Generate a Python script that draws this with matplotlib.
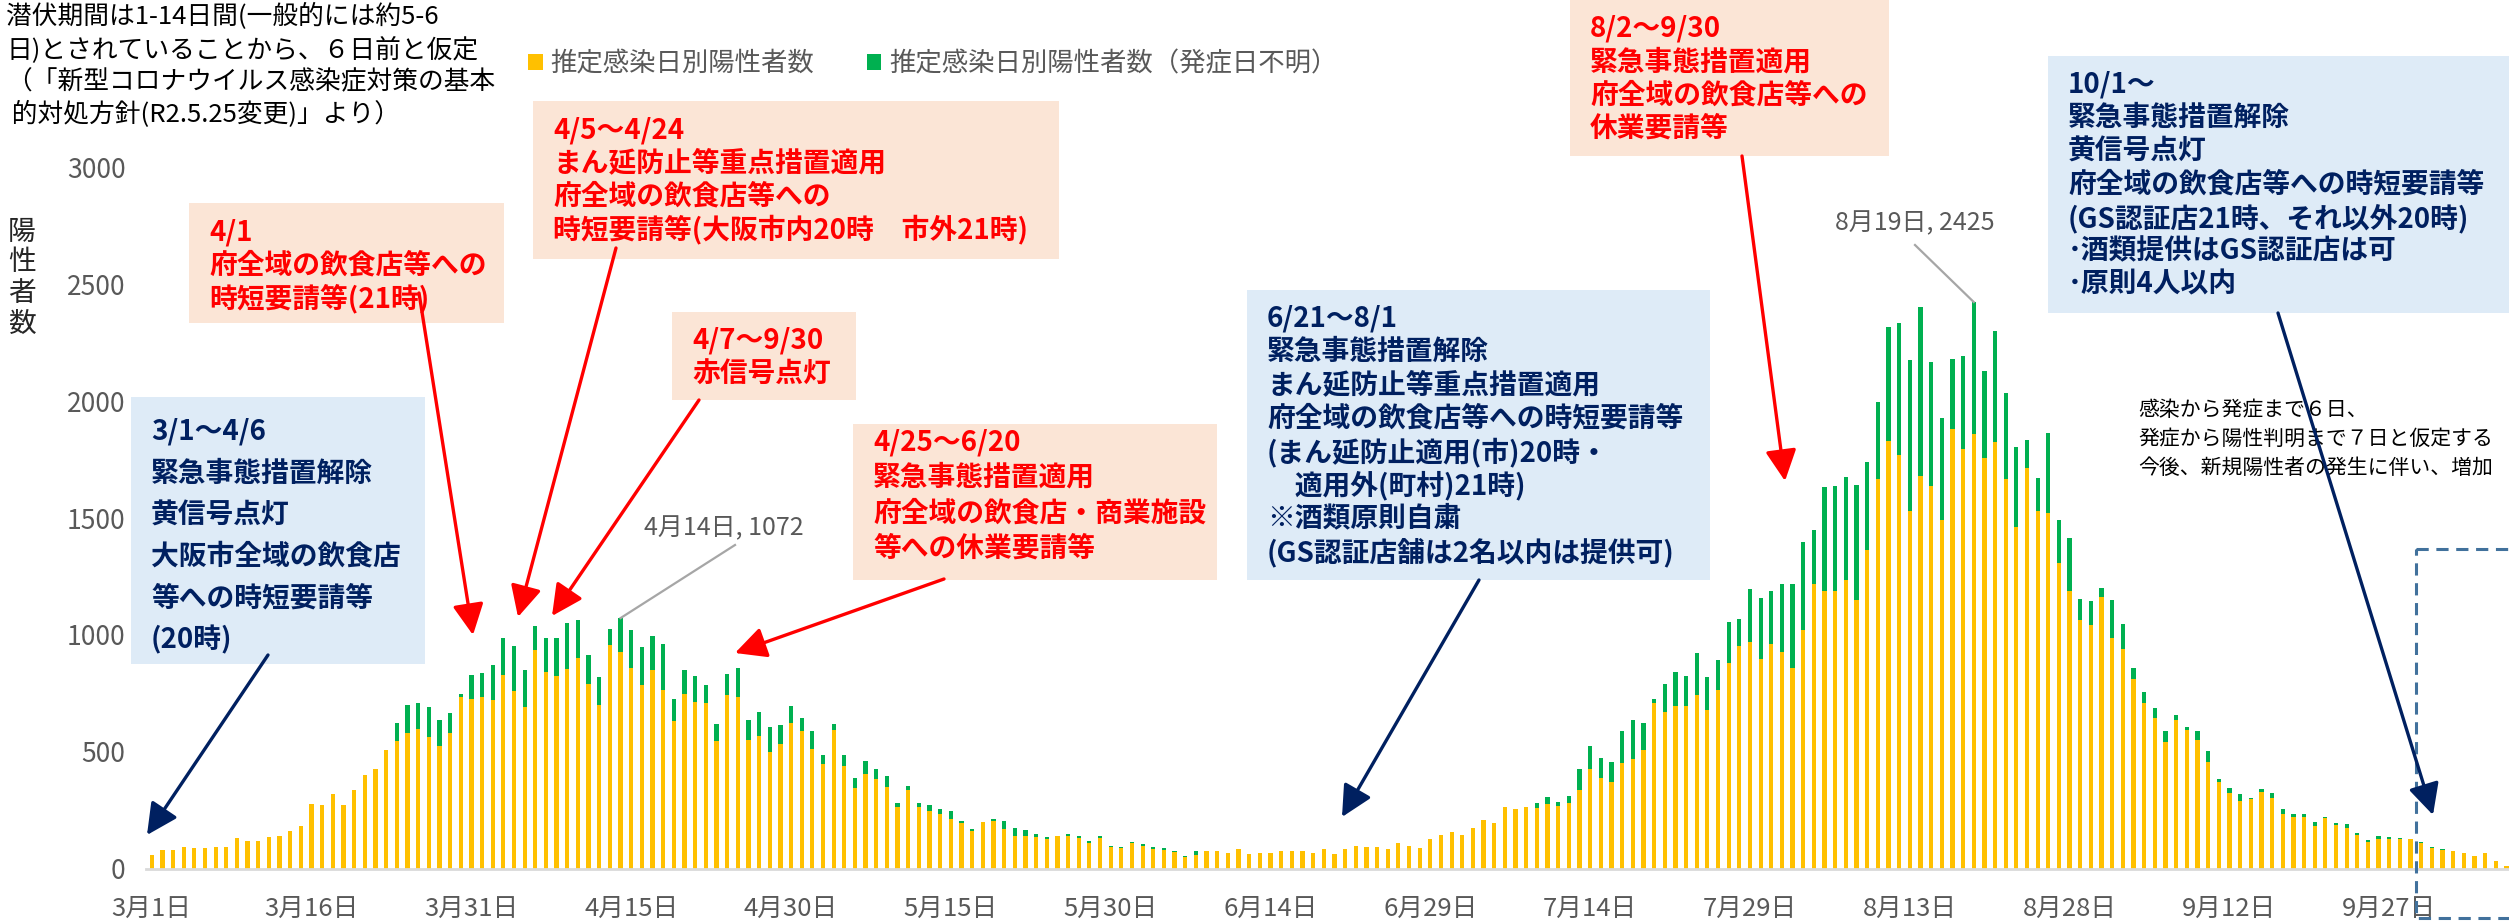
import matplotlib
matplotlib.use('Agg')
import matplotlib.pyplot as plt
from matplotlib.patches import Rectangle, FancyArrowPatch
from matplotlib.lines import Line2D
from matplotlib.transforms import Affine2D
import numpy as np

plt.rcParams['font.family'] = ['Noto Sans CJK JP', 'DejaVu Sans']

# ---------------- data ----------------
# 推定感染日別陽性者数 (onset known), 3/1 .. 10/8, one value per day
known_mar_apr = [58, 81, 80, 91, 86, 89, 92, 92, 129, 116, 116, 135, 139, 162, 183, 276,
                 273, 319, 270, 336, 399, 427, 506, 546, 581, 597, 563, 524, 579, 736, 726,
                 734, 721, 827, 758, 693, 935, 843, 824, 854, 903, 788, 701, 957, 925, 860,
                 787, 850, 764, 633, 747, 713, 708, 546, 744, 734, 550, 566, 497, 532]
known_may_jun = [623, 590, 513, 447, 591, 439, 346, 406, 383, 349, 265, 335, 265, 248, 235,
                 213, 195, 159, 197, 205, 169, 141, 141, 135, 128, 140, 139, 131, 109, 132,
                 92, 89, 108, 96, 83, 81, 72, 48, 59, 75, 75, 68, 85, 62, 68, 68, 75, 75, 75,
                 68, 85, 61, 83, 96, 91, 93, 83, 111, 98, 88, 126]
known_jul_aug = [142, 155, 143, 173, 208, 196, 263, 256, 265, 258, 278, 266, 281, 338, 428,
                 387, 372, 451, 467, 506, 710, 670, 694, 697, 743, 679, 766, 880, 952, 970,
                 898, 962, 928, 857, 1021, 1217, 1187, 1187, 1236, 1150, 1364, 1667, 1832,
                 1770, 1532, 1679, 1636, 1491, 1880, 1795, 1858, 1759, 1827, 1666, 1462, 1713,
                 1530, 1520, 1306, 1187, 1065, 1043]
known_sep_oct = [1164, 986, 941, 813, 710, 643, 541, 634, 591, 550, 454, 372, 322, 291, 296,
                 327, 302, 235, 219, 220, 181, 216, 185, 173, 142, 114, 127, 127, 126, 127,
                 108, 88, 80, 73, 65, 54, 65, 31, 10]
# 推定感染日別陽性者数（発症日不明）
unknown_mar_apr = [0] * 23 + [75, 120, 111, 130, 110, 87, 10, 101, 104, 149, 158, 194, 157,
                   102, 142, 161, 197, 159, 125, 120, 68, 147, 161, 161, 145, 197, 94, 101,
                   112, 76, 71, 87, 123, 84, 103, 109, 81]
unknown_may_jun = [74, 54, 77, 39, 26, 47, 40, 53, 43, 47, 14, 18, 14, 22, 20, 33, 10, 10, 2,
                   5, 36, 32, 24, 13, 5, 1, 9, 7, 9, 6, 6, 4, 5, 9, 10, 7, 3, 4, 16] + [0] * 22
unknown_jul_aug = [0] * 9 + [23, 29, 20, 31, 90, 96, 88, 84, 137, 168, 116, 15, 119, 149, 129,
                   178, 139, 127, 175, 116, 225, 258, 228, 289, 360, 378, 231, 448, 451, 441,
                   493, 377, 332, 484, 564, 646, 723, 531, 436, 300, 398, 567, 369, 472, 370,
                   342, 122, 142, 343, 187, 227, 88, 100]
unknown_sep_oct = [35, 164, 106, 44, 44, 44, 47, 21, 16, 40, 51, 12, 23, 26, 6, 13, 21, 20, 16,
                   14, 18, 4, 11, 16, 11, 7, 10, 7, 5, 0, 6, 3, 2, 0, 0, 0, 0, 0, 0]

known = known_mar_apr + known_may_jun + known_jul_aug + known_sep_oct
unknown = unknown_mar_apr + unknown_may_jun + unknown_jul_aug + unknown_sep_oct

tick_days = list(range(0, 211, 15))
tick_labels = ['3月1日', '3月16日', '3月31日', '4月15日', '4月30日', '5月15日', '5月30日',
               '6月14日', '6月29日', '7月14日', '7月29日', '8月13日', '8月28日', '9月12日',
               '9月27日']
series_names = ['推定感染日別陽性者数', '推定感染日別陽性者数（発症日不明）']
peak_labels = [(44, '4月14日, 1072'), (171, '8月19日, 2425')]

# ---------------- figure ----------------
W, H = 2509, 923
fig = plt.figure(figsize=(W / 100, H / 100), dpi=100)
PX = Affine2D().scale(1 / W, -1 / H).translate(0, 1) + fig.transFigure

x_left = 146.4
px_day = 10.655
y_base = 868.5
ax = fig.add_axes([x_left / W, (H - y_base) / H, 222 * px_day / W, 700.8 / H])

days = np.arange(len(known))
b1 = ax.bar(days, known, width=0.4, color='#FFC000', linewidth=0, zorder=2)
b2 = ax.bar(days, unknown, bottom=known, width=0.4, color='#00B050', linewidth=0, zorder=2)

ax.set_xlim(-0.5, 221.5)
ax.set_ylim(0, 3000)
ax.set_yticks(range(0, 3001, 500))
ax.set_yticklabels([str(v) for v in range(0, 3001, 500)], fontsize=19, color='#595959')
ax.set_xticks(tick_days)
ax.set_xticklabels(tick_labels, fontsize=18.5, color='#595959')
ax.tick_params(axis='x', length=0, pad=20)
ax.tick_params(axis='y', length=0, pad=15)
for s in ['top', 'right', 'left']:
    ax.spines[s].set_visible(False)
ax.spines['bottom'].set_color('#D9D9D9')
ax.spines['bottom'].set_linewidth(2)
ax.set_facecolor('none')

# legend
fig.legend(handles=[b1, b2], labels=series_names, loc='center left',
           bbox_to_anchor=(528 / W, 1 - 64 / H), ncol=2, frameon=False, fontsize=19,
           handlelength=0.55, handleheight=0.55, handletextpad=0.3, columnspacing=2.0,
           borderpad=0, borderaxespad=0, labelcolor='#595959')

# y label (vertical characters)
for i, ch in enumerate('陽性者数'):
    fig.text(22 / W, 1 - (232 + i * 30.5) / H, ch, ha='center', va='center',
             fontsize=20, color='#262626')

# top-left note
note = ['潜伏期間は1-14日間(一般的には約5-6',
        '日)とされていることから、６日前と仮定',
        '（「新型コロナウイルス感染症対策の基本',
        ' 的対処方針(R2.5.25変更)」より）']
for i, line in enumerate(note):
    fig.text(6 / W, 1 - (17 + i * 32.5) / H, line, ha='left', va='center',
             fontsize=18.5, color='#000000')

# right note (only the part visible inside the picture)
note2 = ['感染から発症まで６日、',
         '発症から陽性判明まで７日と仮定する',
         '今後、新規陽性者の発生に伴い、増加']
for i, line in enumerate(note2):
    fig.text(2138 / W, 1 - (410 + i * 29) / H, line, ha='left', va='center',
             fontsize=15, color='#000000', zorder=6)

PINK, BLUE = '#FBE5D6', '#DEEBF7'
RED, NAVY = '#FF0000', '#002060'


def textbox(x0, y0, x1, y1, fill, color, lines, first=None, step=33.3):
    fig.add_artist(Rectangle((x0, y0), x1 - x0, y1 - y0, transform=PX, facecolor=fill,
                             edgecolor='none', zorder=5))
    if first is None:
        first = y0 + 29
    for i, line in enumerate(lines):
        fig.text((x0 + 20) / W, 1 - (first + i * step) / H, line, ha='left', va='center',
                 fontsize=20, fontweight='bold', color=color, zorder=6)


def arrow(p0, p1, color):
    fig.add_artist(FancyArrowPatch(p0, p1, transform=PX,
                                   arrowstyle='-|>,head_length=1.0,head_width=0.5',
                                   mutation_scale=19, color=color, lw=2.4, shrinkA=0,
                                   shrinkB=0, zorder=7))


textbox(131, 397, 425, 664, BLUE, NAVY,
        ['3/1～4/6', '緊急事態措置解除', '黄信号点灯', '大阪市全域の飲食店', '等への時短要請等', '(20時)'],
        first=432, step=41.6)
textbox(189, 203, 504, 323, PINK, RED,
        ['4/1', '府全域の飲食店等への', '時短要請等(21時)'])
textbox(533, 101, 1059, 259, PINK, RED,
        ['4/5～4/24', 'まん延防止等重点措置適用', '府全域の飲食店等への',
         '時短要請等(大阪市内20時　市外21時)'])
textbox(672, 312, 856, 400, PINK, RED, ['4/7～9/30', '赤信号点灯'])
textbox(853, 424, 1217, 580, PINK, RED,
        ['4/25～6/20', '緊急事態措置適用', '府全域の飲食店・商業施設', '等への休業要請等'],
        first=442, step=35.5)
textbox(1247, 290, 1710, 580, BLUE, NAVY,
        ['6/21～8/1', '緊急事態措置解除', 'まん延防止等重点措置適用', '府全域の飲食店等への時短要請等',
         '(まん延防止適用(市)20時・', '　適用外(町村)21時)', '※酒類原則自粛',
         '(GS認証店舗は2名以内は提供可)'])
textbox(1570, -5, 1889, 156, PINK, RED,
        ['8/2～9/30', '緊急事態措置適用', '府全域の飲食店等への', '休業要請等'], first=29)
textbox(2048, 56, 2530, 313, BLUE, NAVY,
        ['10/1～', '緊急事態措置解除', '黄信号点灯', '府全域の飲食店等への時短要請等',
         '(GS認証店21時、それ以外20時)', '･酒類提供はGS認証店は可', '･原則4人以内'], first=85)

arrow((268, 655), (147, 835), NAVY)
arrow((419, 293), (473, 635), RED)
arrow((616, 248), (518, 617), RED)
arrow((699, 400), (552, 616), RED)
arrow((944, 579), (735, 653), RED)
arrow((1479, 580), (1342, 817), NAVY)
arrow((1742, 156), (1785, 481), RED)
arrow((2278, 313), (2433, 815), NAVY)

# dashed frame for the provisional period
fig.add_artist(Rectangle((x_left + 213 * px_day, 549), 200, 369, transform=PX, fill=False,
                         edgecolor='#41719C', lw=2.2, linestyle=(0, (4, 2.5)), zorder=4,
                         clip_on=False))

# peak labels with leader lines
label_pos = {44: ((724, 528), (735, 545)), 171: ((1915, 223), (1915, 245))}
for d, txt in peak_labels:
    (tx, ty), (lx, ly) = label_pos[d]
    fig.text(tx / W, 1 - ty / H, txt, ha='center', va='center', fontsize=18, color='#595959')
    tot = known[d] + unknown[d]
    xd, yd = ax.transData.transform((d, tot))
    xf, yf = fig.transFigure.inverted().transform((xd, yd))
    fig.add_artist(Line2D([lx / W, xf], [1 - ly / H, yf], transform=fig.transFigure,
                          color='#A6A6A6', lw=1.6))

fig.savefig('out.png', dpi=100)
